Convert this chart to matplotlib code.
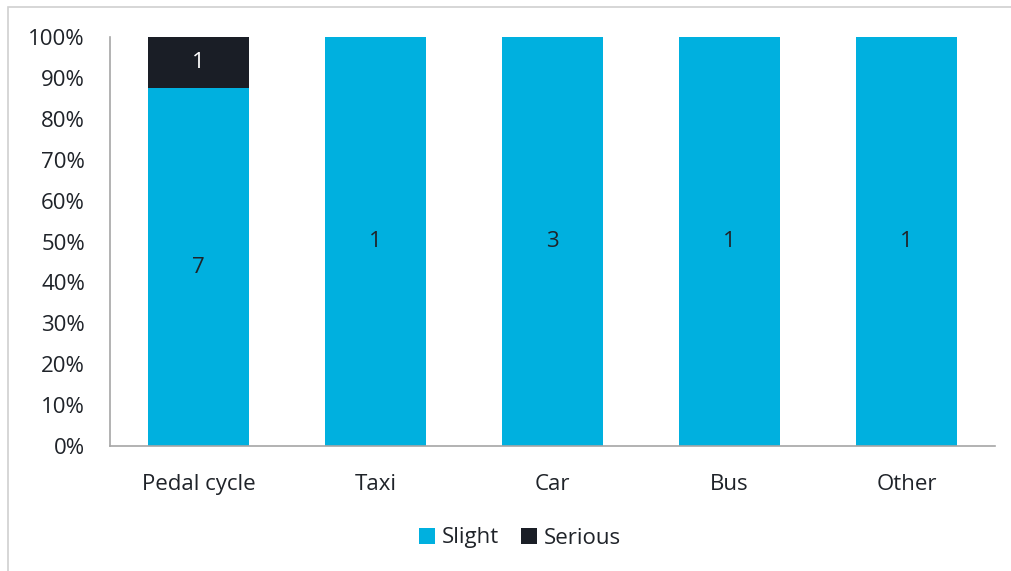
import numpy as np
import matplotlib.pyplot as plt
from matplotlib.patches import Rectangle

plt.rcParams["font.family"] = ["Open Sans", "DejaVu Sans"]

categories = ["Pedal cycle", "Taxi", "Car", "Bus", "Other"]
slight = [7, 1, 3, 1, 1]
serious = [1, 0, 0, 0, 0]

slight_color = "#00B0DF"
serious_color = "#1A1E26"
text_color = "#1F2329"
fs = 16

slight_arr = np.array(slight, dtype=float)
serious_arr = np.array(serious, dtype=float)
totals = slight_arr + serious_arr
slight_pct = slight_arr / totals * 100
serious_pct = serious_arr / totals * 100

fig = plt.figure(figsize=(10.11, 5.71), dpi=100)
ax = fig.add_axes([110 / 1011, 1 - 446 / 571, 885 / 1011, 409 / 571])

# light frame around the chart area
fig.patches.append(Rectangle((8 / 1011, -0.1), 1.2, (571 - 7) / 571 + 0.1,
                             transform=fig.transFigure, fill=False,
                             edgecolor="#D0D0D0", linewidth=1.2))

x = np.arange(len(categories))
width = 0.565
b1 = ax.bar(x, slight_pct, width, color=slight_color, label="Slight")
b2 = ax.bar(x, serious_pct, width, bottom=slight_pct, color=serious_color, label="Serious")

for i in range(len(categories)):
    if slight[i]:
        ax.text(x[i], slight_pct[i] / 2, str(slight[i]), ha="center", va="center",
                fontsize=fs, color=text_color)
    if serious[i]:
        ax.text(x[i], slight_pct[i] + serious_pct[i] / 2, str(serious[i]),
                ha="center", va="center", fontsize=fs, color="white")

ax.set_xlim(-0.5, len(categories) - 0.5)
ax.set_ylim(0, 100)
ax.set_yticks(np.arange(0, 101, 10))
ax.set_yticklabels([f"{v}%" for v in range(0, 101, 10)])
ax.set_xticks(x)
ax.set_xticklabels(categories)
ax.tick_params(axis="both", length=0, labelsize=fs, labelcolor=text_color)
ax.tick_params(axis="y", pad=18)
ax.tick_params(axis="x", pad=20)

for side in ["top", "right"]:
    ax.spines[side].set_visible(False)
for side in ["left", "bottom"]:
    ax.spines[side].set_color("#A6A6A6")
    ax.spines[side].set_linewidth(1.2)

fig.legend(handles=[b1, b2], labels=["Slight", "Serious"], loc="center",
           bbox_to_anchor=(520 / 1011, 1 - 538 / 571), ncol=2, frameon=False,
           fontsize=fs, handlelength=0.7, handleheight=0.7, handletextpad=0.3,
           columnspacing=1.0, labelcolor=text_color)

fig.savefig("out.png", dpi=100)
